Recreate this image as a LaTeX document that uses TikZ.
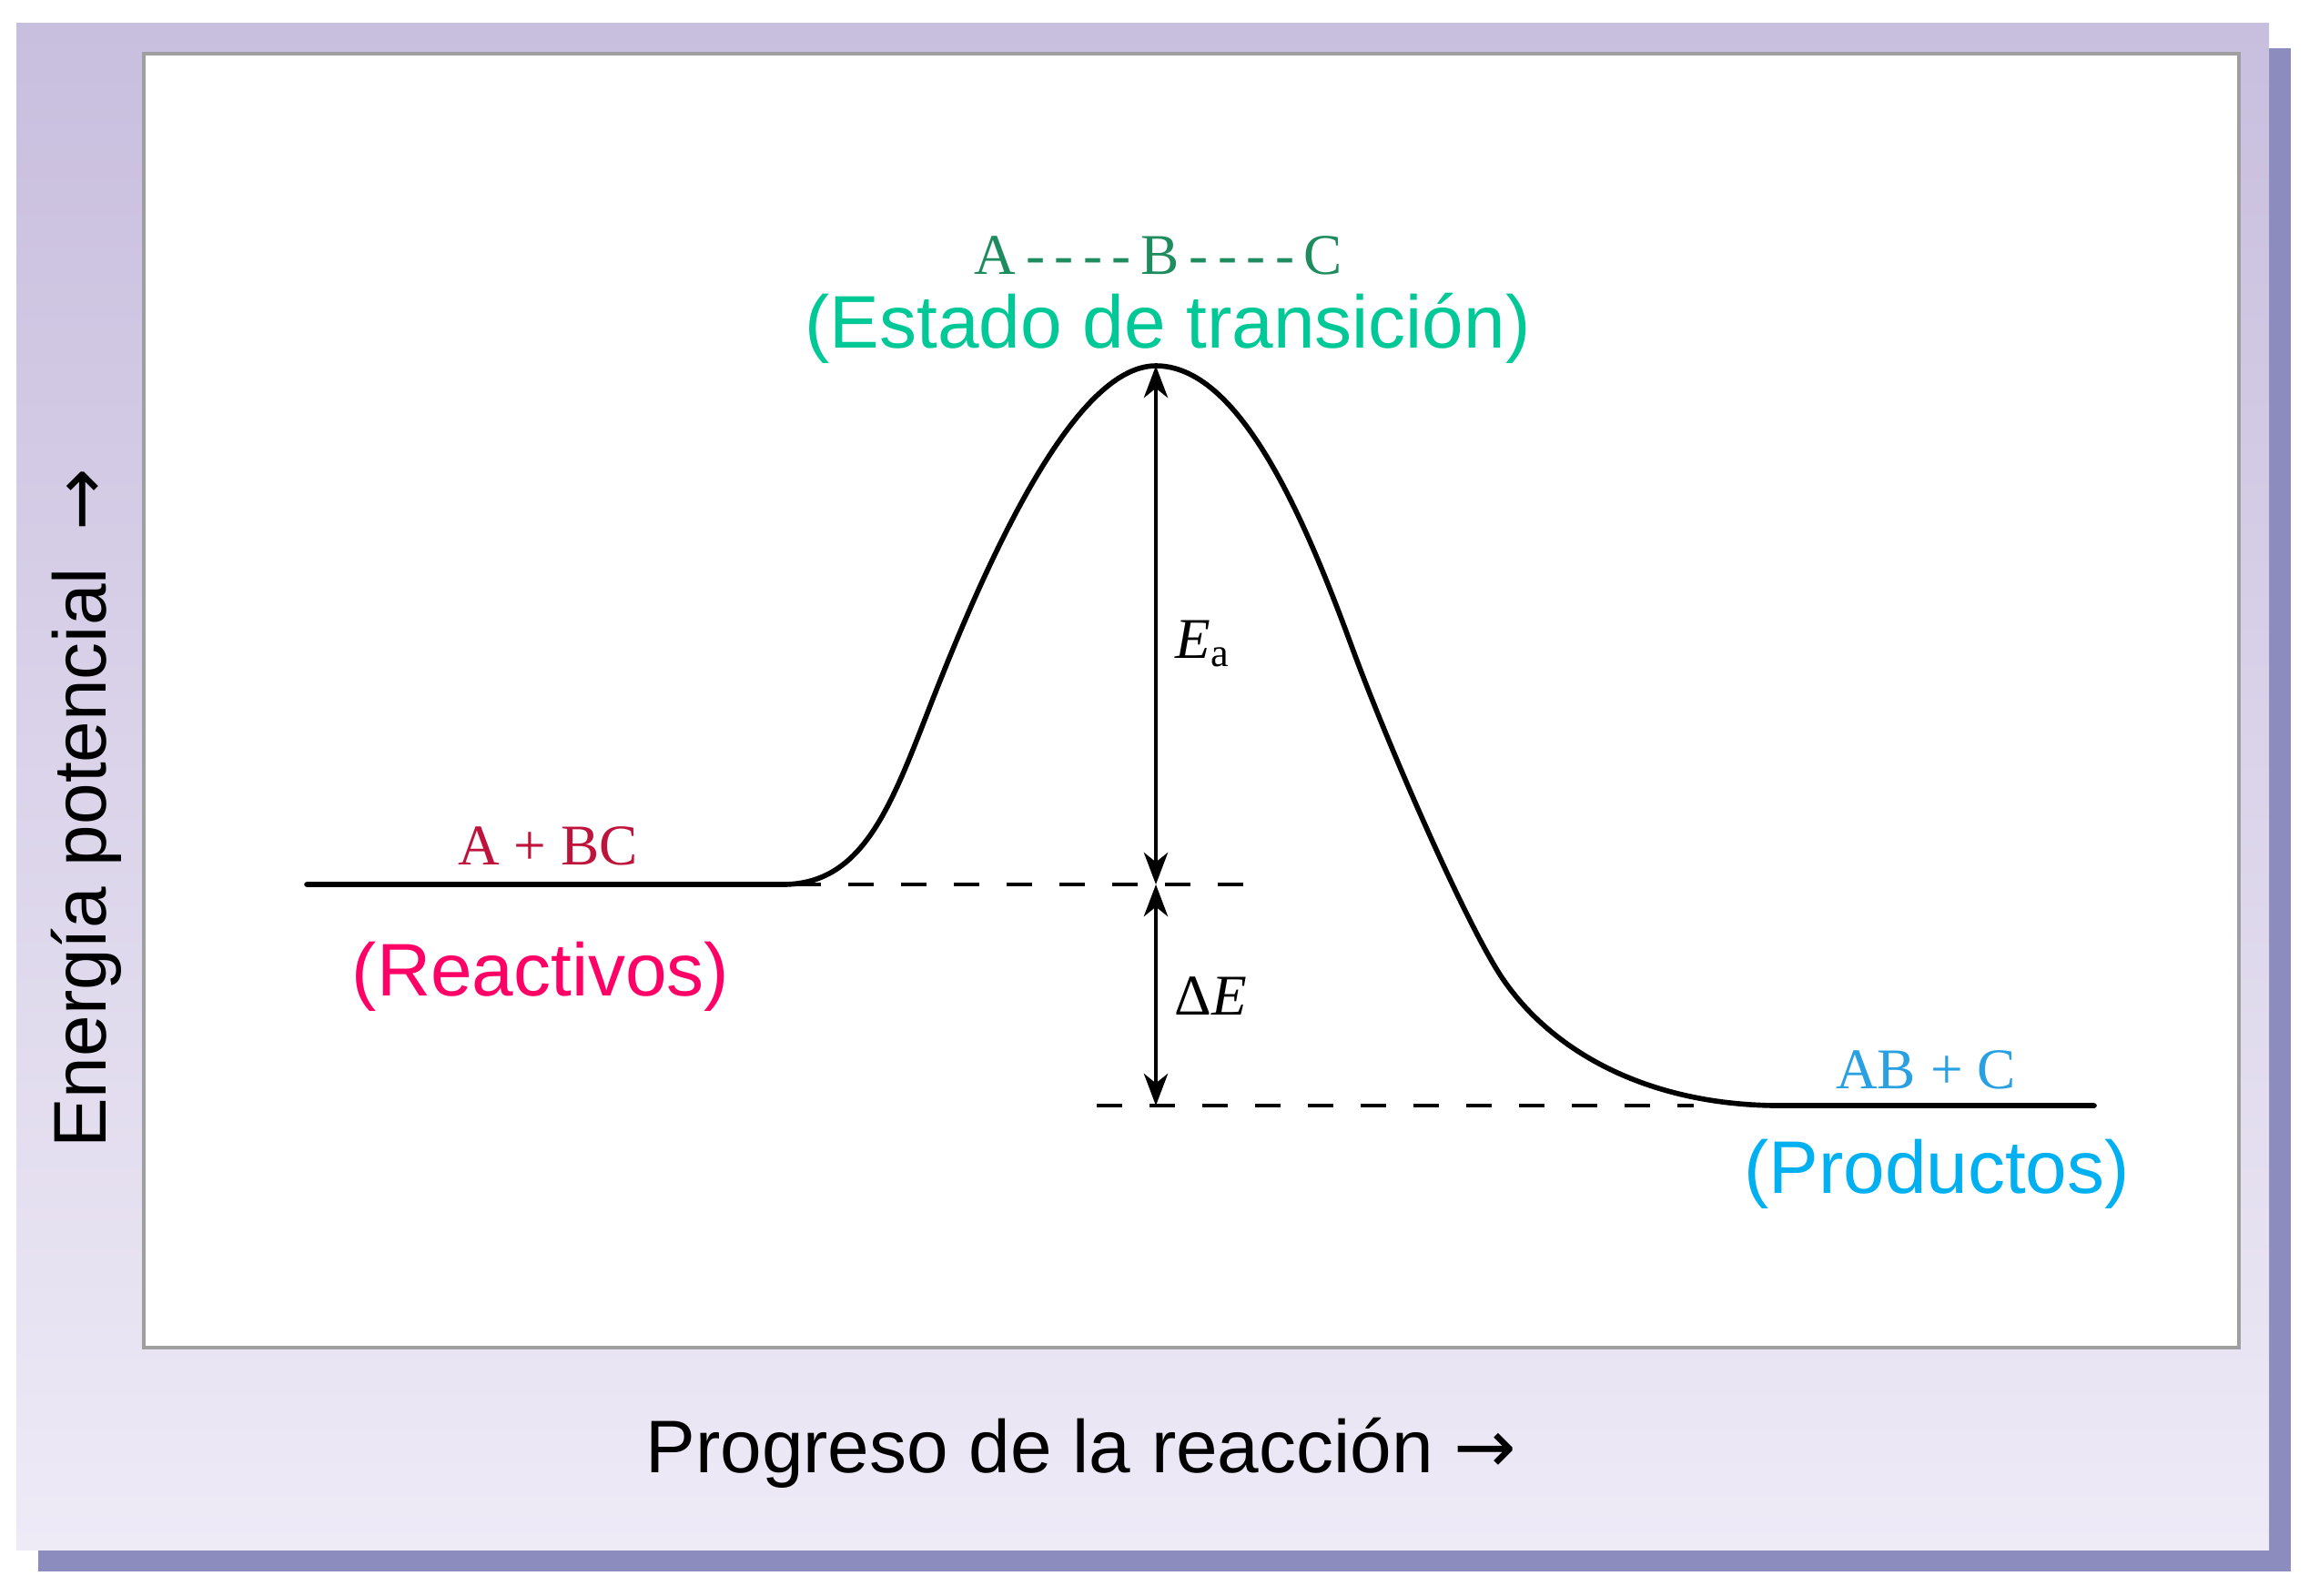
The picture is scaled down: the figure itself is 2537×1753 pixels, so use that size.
\documentclass[tikz,border=0pt]{standalone}
\usepackage{fontspec}
\setmainfont{Liberation Serif}
\newfontfamily\sansf{Liberation Sans}
\newfontfamily\arrowf{DejaVu Sans}
\usetikzlibrary{arrows.meta}
\definecolor{frameTop}{RGB}{200,190,222}
\definecolor{frameBot}{RGB}{238,234,246}
\definecolor{frameShadow}{RGB}{140,140,190}
\definecolor{tsDark}{RGB}{30,140,95}
\definecolor{tsLight}{RGB}{0,200,150}
\definecolor{reacDark}{RGB}{190,20,60}
\definecolor{reacLight}{RGB}{255,0,102}
\definecolor{prodDark}{RGB}{40,160,225}
\definecolor{prodLight}{RGB}{0,176,240}
\tikzset{
  bigsans/.style={font=\sansf\fontsize{23.3}{28}\selectfont, inner sep=0pt},
  smallserif/.style={font=\fontsize{18}{22}\selectfont, inner sep=0pt},
  energycurve/.style={line width=1.6pt, line join=round, line cap=round},
  levelline/.style={line width=0.9pt, dash pattern=on 8pt off 8.5pt},
  gaparrow/.style={line width=1pt, {Stealth[length=10pt,width=7.5pt,inset=3pt]}-{Stealth[length=10pt,width=7.5pt,inset=3pt]}}
}
\begin{document}
\begin{tikzpicture}[x=0.01cm, y=-0.01cm]
\useasboundingbox (0,0) rectangle (2537,1753);
% frame
\fill[frameShadow] (42,53) rectangle (2517,1727);
\shade[top color=frameTop, bottom color=frameBot] (18,25) rectangle (2493,1703);
\fill[white, draw=gray!75, line width=1.3pt] (158,59) rectangle (2460,1481);

% coordinates
\coordinate (peak) at (1270,402);
\coordinate (rlev) at (1270,972);
\coordinate (plev) at (1270,1215);
\coordinate (rdashS) at (874,972);
\coordinate (rdashE) at (1367,972);
\coordinate (pdashS) at (1205,1215);
\coordinate (pdashE) at (1861,1215);

% dashed levels
\draw[levelline] (rdashS) -- (rdashE);
\draw[levelline] (pdashS) -- (pdashE);

% energy curve
\draw[energycurve] (337,972) -- (860,972)
  .. controls (950,972) and (980,883) .. (1025,768)
  .. controls (1085,615) and (1180,402) .. (peak)
  .. controls (1360,402) and (1430,560) .. (1485,710)
  .. controls (1525,819) and (1610,1014) .. (1650,1074)
  .. controls (1700,1149) and (1800,1213) .. (1950,1215)
  -- (2301,1215);

% gap arrows
\draw[gaparrow] (peak) -- (rlev);
\draw[gaparrow] (rlev) -- (plev);

% labels
\node[smallserif, text=tsDark, anchor=base] (tsformula) at (1273,301) {A\,-\,-\,-\,-\,B\,-\,-\,-\,-\,C};
\node[bigsans, text=tsLight, anchor=base] (tsname) at (1283,382) {(Estado de transición)};
\node[smallserif, text=reacDark, anchor=base] (reacformula) at (602,950) {A + BC};
\node[bigsans, text=reacLight, anchor=base] (reacname) at (594,1094) {(Reactivos)};
\node[smallserif, text=prodDark, anchor=base] (prodformula) at (2116,1196) {AB + C};
\node[bigsans, text=prodLight, anchor=base] (prodname) at (2128,1311) {(Productos)};
\node[smallserif, anchor=base west] (ealabel) at (1291,723) {\textit{E}\textsubscript{a}};
\node[smallserif, anchor=base west] (delabel) at (1290,1115) {Δ\textit{E}};

% axis labels
\node[bigsans, anchor=base] (xlabel) at (1188,1618) {Progreso de la reacción {\arrowf →}};
\node[bigsans, anchor=base, rotate=90] (ylabel) at (116,888) {Energía potencial\hspace{0.5em}{\arrowf →}};
\end{tikzpicture}
\end{document}
